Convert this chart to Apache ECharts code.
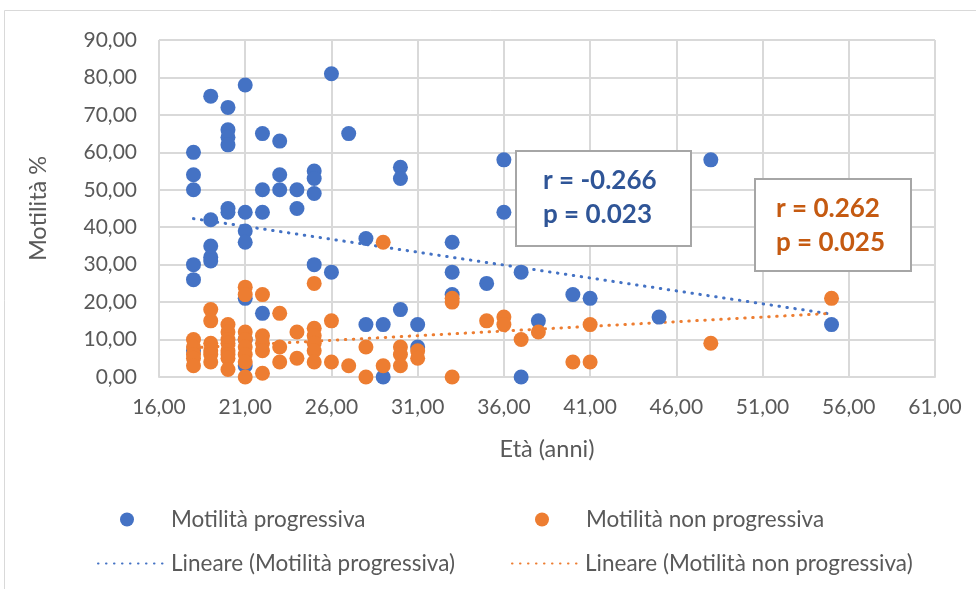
<!DOCTYPE html>
<html>
<head>
<meta charset="utf-8">
<script src="https://cdn.jsdelivr.net/npm/echarts@6/dist/echarts.min.js"></script>
<style>
  html, body { margin: 0; padding: 0; background: #ffffff; }
  #chart { width: 976px; height: 589px; }
</style>
</head>
<body>
<div id="chart"></div>
<script>
// Age (years) and progressive motility (%) per subject
const ageProg = [
  18, 18, 18, 18, 18, 18,
  19, 19, 19, 19, 19,
  20, 20, 20, 20, 20, 20,
  21, 21, 21, 21, 21, 21, 21,
  22, 22, 22, 22,
  23, 23, 23,
  24, 24,
  25, 25, 25, 25,
  26, 26,
  27,
  28, 28,
  29, 29,
  30, 30, 30,
  31, 31,
  33, 33, 33,
  35,
  36, 36,
  37, 37,
  38, 40, 41, 45, 48, 55
];
const motProg = [
  60, 54, 50, 30, 26, 7,
  75, 42, 35, 32, 31,
  72, 66, 64, 62, 45, 44,
  78, 44, 39, 36, 21, 10, 3,
  65, 50, 44, 17,
  63, 54, 50,
  50, 45,
  55, 53, 49, 30,
  81, 28,
  65,
  37, 14,
  14, 0,
  56, 53, 18,
  14, 8,
  36, 28, 22,
  25,
  58, 44,
  28, 0,
  15, 22, 21, 16, 58, 14
];

// Age (years) and non-progressive motility (%) per subject
const ageNonProg = [
  18, 18, 18, 18, 18,
  19, 19, 19, 19, 19, 19,
  20, 20, 20, 20, 20, 20, 20, 20,
  21, 21, 21, 21, 21, 21, 21, 21,
  22, 22, 22, 22, 22,
  23, 23, 23,
  24, 24,
  25, 25, 25, 25, 25, 25,
  26, 26,
  27,
  28, 28,
  29, 29,
  30, 30, 30,
  31, 31,
  33, 33, 33,
  35,
  36, 36,
  37, 38, 40, 41, 41, 48, 55
];
const motNonProg = [
  10, 8, 6, 5, 3,
  18, 15, 9, 7, 6, 4,
  14, 12, 10, 9, 7, 6, 5, 2,
  24, 22, 12, 10, 8, 6, 4, 0,
  22, 11, 9, 7, 1,
  17, 8, 4,
  12, 5,
  25, 13, 11, 9, 7, 4,
  15, 4,
  3,
  8, 0,
  36, 3,
  8, 6, 3,
  7, 5,
  21, 20, 0,
  15,
  16, 14,
  10, 12, 4, 14, 4, 9, 21
];

// Linear trend lines (Excel "Lineare"), end points at the youngest and oldest age
const trendProgAge = [18, 55];
const trendProgVal = [42.3, 16.8];
const trendNonProgAge = [18, 55];
const trendNonProgVal = [7.8, 17.0];

// Axis ticks
const xTickMin = 16, xTickMax = 61, xTickStep = 5;
const yTickMin = 0, yTickMax = 90, yTickStep = 10;

// Correlation annotations
const statsProg = ['r = -0.266', 'p = 0.023'];
const statsNonProg = ['r = 0.262', 'p = 0.025'];

const seriesNames = [
  'Motilità progressiva',
  'Motilità non progressiva',
  'Lineare (Motilità progressiva)',
  'Lineare (Motilità non progressiva)'
];

const BLUE = '#4472C4';
const ORANGE = '#ED7D31';
const GREY_TEXT = '#595959';
const FONT = 'Lato, "Open Sans", sans-serif';

function pairs(xs, ys) {
  return xs.map((x, i) => [x, ys[i]]);
}

const fmt = v => v.toFixed(2).replace('.', ',');

const chart = echarts.init(document.getElementById('chart'), null, { renderer: 'canvas' });

const dotted = { width: 3, type: [0.5, 7.5], cap: 'round' };

function legendAt(name, left, top, isLine) {
  const lg = {
    data: [name],
    left: left,
    top: top,
    itemWidth: 68,
    itemHeight: 14,
    itemGap: 0,
    selectedMode: false,
    textStyle: { fontFamily: FONT, fontSize: 22.5, color: GREY_TEXT, padding: [0, 0, 0, isLine ? 0 : 5] }
  };
  // trend entries show only the dotted stroke, no marker
  if (isLine) lg.itemStyle = { opacity: 0 };
  return lg;
}

function statBox(x, y, w, h, lines, color, tx, ty1, ty2) {
  return {
    type: 'group',
    z: 100,
    children: [
      { type: 'rect', z: 100, shape: { x: x, y: y, width: w, height: h },
        style: { fill: '#ffffff', stroke: '#A6A6A6', lineWidth: 2 } },
      { type: 'text', z: 101, x: tx, y: ty1,
        style: { text: lines[0], fill: color, font: 'bold 26px ' + FONT, textVerticalAlign: 'middle' } },
      { type: 'text', z: 101, x: tx, y: ty2,
        style: { text: lines[1], fill: color, font: 'bold 26px ' + FONT, textVerticalAlign: 'middle' } }
    ]
  };
}

chart.setOption({
  animation: false,
  backgroundColor: '#ffffff',
  grid: { left: 159, right: 41, top: 40, bottom: 212 },
  xAxis: {
    type: 'value',
    min: xTickMin, max: xTickMax, interval: xTickStep,
    name: 'Età (anni)',
    nameLocation: 'middle',
    nameGap: 60,
    nameTextStyle: { fontFamily: FONT, fontSize: 23.5, color: GREY_TEXT },
    axisLine: { show: true, lineStyle: { color: '#D9D9D9', width: 2 } },
    axisTick: { show: false },
    axisLabel: { formatter: fmt, margin: 20, fontFamily: FONT, fontSize: 21, color: GREY_TEXT },
    splitLine: { show: true, lineStyle: { color: '#D9D9D9', width: 2 } }
  },
  yAxis: {
    type: 'value',
    min: yTickMin, max: yTickMax, interval: yTickStep,
    name: 'Motilità %',
    nameLocation: 'middle',
    nameRotate: 90,
    nameGap: 109,
    nameTextStyle: { fontFamily: FONT, fontSize: 23.5, color: GREY_TEXT },
    axisLine: { show: false },
    axisTick: { show: false },
    axisLabel: { formatter: fmt, margin: 22, fontFamily: FONT, fontSize: 21, color: GREY_TEXT },
    splitLine: { show: true, lineStyle: { color: '#D9D9D9', width: 2 } }
  },
  legend: [
    legendAt(seriesNames[0], 115, 503, false),
    legendAt(seriesNames[1], 530, 503, false),
    legendAt(seriesNames[2], 92, 547, true),
    legendAt(seriesNames[3], 506, 547, true)
  ],
  series: [
    {
      name: seriesNames[2], type: 'line', z: 1,
      data: pairs(trendProgAge, trendProgVal),
      symbol: 'none', silent: true,
      lineStyle: Object.assign({ color: BLUE }, dotted),
      itemStyle: { color: BLUE }
    },
    {
      name: seriesNames[3], type: 'line', z: 1,
      data: pairs(trendNonProgAge, trendNonProgVal),
      symbol: 'none', silent: true,
      lineStyle: Object.assign({ color: ORANGE }, dotted),
      itemStyle: { color: ORANGE }
    },
    {
      name: seriesNames[0], type: 'scatter', z: 3,
      data: pairs(ageProg, motProg),
      symbol: 'circle', symbolSize: 15,
      itemStyle: { color: BLUE, opacity: 1 }
    },
    {
      name: seriesNames[1], type: 'scatter', z: 4,
      data: pairs(ageNonProg, motNonProg),
      symbol: 'circle', symbolSize: 15,
      itemStyle: { color: ORANGE, opacity: 1 }
    }
  ],
  graphic: [
    { type: 'rect', silent: true, z: -10,
      shape: { x: 4.5, y: 10.5, width: 1000, height: 700 },
      style: { fill: 'none', stroke: '#D9D9D9', lineWidth: 1 } },
    statBox(516, 151, 175, 95, statsProg, '#2F5597', 543, 181, 215),
    statBox(755, 179, 156, 92, statsNonProg, '#C55A11', 776, 209, 243)
  ]
});
</script>
</body>
</html>
